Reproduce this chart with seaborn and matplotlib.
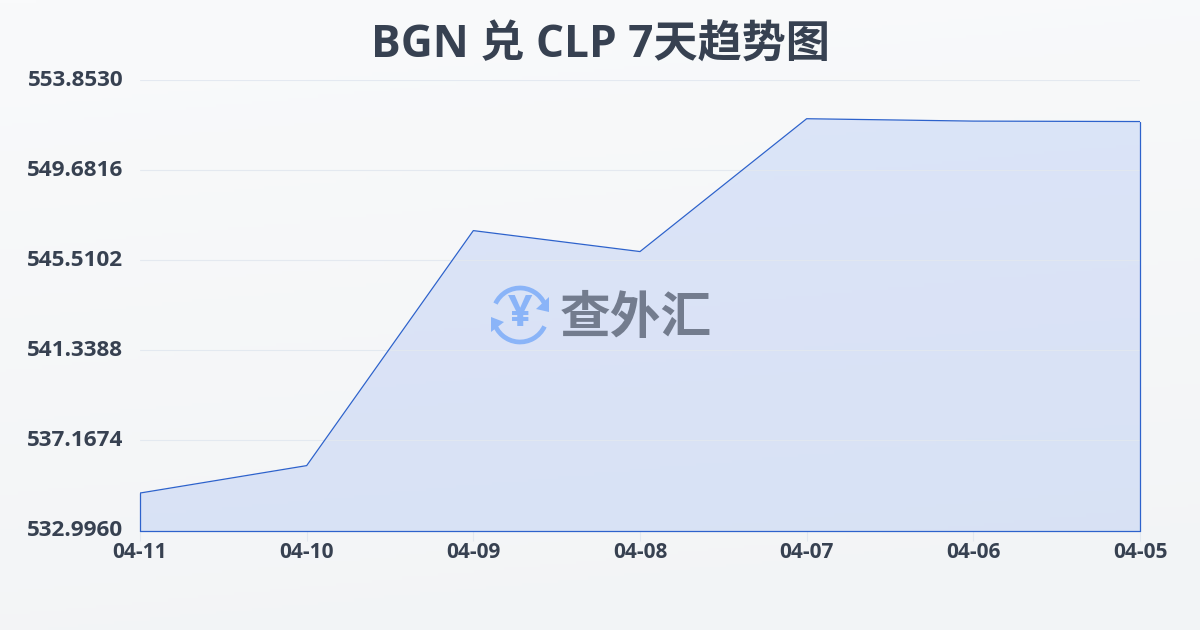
import numpy as np
import matplotlib
matplotlib.use('Agg')
import matplotlib.pyplot as plt
from matplotlib.patches import Arc, Polygon
from matplotlib.transforms import ScaledTranslation
from matplotlib.colors import LinearSegmentedColormap
import seaborn as sns

dates = ['04-11', '04-10', '04-09', '04-08', '04-07', '04-06', '04-05']
rates = [534.73, 536.00, 546.88, 545.91, 552.06, 551.95, 551.93]
y_ticks = [532.9960, 537.1674, 541.3388, 545.5102, 549.6816, 553.8530]
y_labels = ['532.9960', '537.1674', '541.3388', '545.5102', '549.6816', '553.8530']
title = 'BGN 兑 CLP 7天趋势图'

sns.set_theme(style='white')
plt.rcParams['font.family'] = ['Open Sans', 'Noto Sans CJK SC', 'DejaVu Sans']

BLUE = '#2d62cc'
DARK = '#374151'

fig = plt.figure(figsize=(12, 6.3), dpi=100)

# background gradient
bg = fig.add_axes([0, 0, 1, 1], zorder=0)
cmap = LinearSegmentedColormap.from_list('bg', ['#f9fafb', '#f2f4f6'])
xx, yy = np.meshgrid(np.linspace(0, 1, 200), np.linspace(0, 1, 200))
bg.imshow(yy * 0.85 + xx * 0.15, cmap=cmap, aspect='auto', vmin=0, vmax=1)
bg.axis('off')

ax = fig.add_axes([140 / 1200, 1 - 530.5 / 630, 1000 / 1200, 450.5 / 630], zorder=1)
ax.patch.set_alpha(0)

ax.fill_between(dates, rates, y_ticks[0], color='#2563eb', alpha=0.13, linewidth=0, zorder=2)
sns.lineplot(x=dates, y=rates, sort=False, color=BLUE, linewidth=0.9, ax=ax, zorder=3)
ax.plot([dates[0], dates[0]], [y_ticks[0], rates[0]], color=BLUE, lw=0.9, zorder=3, clip_on=False)
ax.plot([dates[-1], dates[-1]], [y_ticks[0], rates[-1]], color=BLUE, lw=0.9, zorder=3, clip_on=False)
ax.plot([dates[0], dates[-1]], [y_ticks[0], y_ticks[0]], color=BLUE, lw=0.9, zorder=3, clip_on=False)

ax.set_xlim(0, len(dates) - 1)
ax.set_ylim(y_ticks[0], y_ticks[-1])
ax.set_yticks(y_ticks)
ax.set_yticklabels(y_labels)
ax.grid(axis='y', color='#e2e8f0', linewidth=0.8, alpha=0.9)
ax.set_axisbelow(False)
for line in ax.get_ygridlines():
    line.set_zorder(2.5)
sns.despine(ax=ax, left=True, bottom=True)

ax.tick_params(axis='y', length=0, pad=12, labelsize=16.2, labelcolor=DARK)
ax.tick_params(axis='x', length=7, width=0.8, color='#e2e8f0', pad=1, labelsize=15, labelcolor=DARK, bottom=True)
for lab in ax.get_yticklabels() + ax.get_xticklabels():
    lab.set_fontweight('bold')
for lab in ax.get_yticklabels():
    lab.set_transform(lab.get_transform() + ScaledTranslation(0, 1.5 / 72, fig.dpi_scale_trans))

fig.text(600 / 1200, 1 - 45.5 / 630, title, ha='center', va='center', fontsize=31.8,
         fontweight='bold', color=DARK)

# watermark logo, drawn in pixel coordinates
wm = fig.add_axes([0, 0, 1, 1], zorder=2)
wm.set_xlim(0, 1200)
wm.set_ylim(630, 0)
wm.axis('off')
LOGO = '#8ab4f8'
wm.add_patch(Arc((520, 315), 54, 54, theta1=25, theta2=165, color=LOGO, lw=3.4))
wm.add_patch(Arc((520, 315), 54, 54, theta1=205, theta2=345, color=LOGO, lw=3.4))
wm.add_patch(Polygon([[549, 297], [549, 312], [536, 309]], closed=True, color=LOGO, lw=0))
wm.add_patch(Polygon([[491, 317], [504, 322], [491, 332]], closed=True, color=LOGO, lw=0))
wm.text(520, 314, '¥', ha='center', va='center', fontsize=31, fontweight='bold', color=LOGO)
wm.text(635.5, 320.5, '查外汇', ha='center', va='center', fontsize=36.5, fontweight='bold', color='#737c8e')

fig.savefig('out.png', dpi=100)
